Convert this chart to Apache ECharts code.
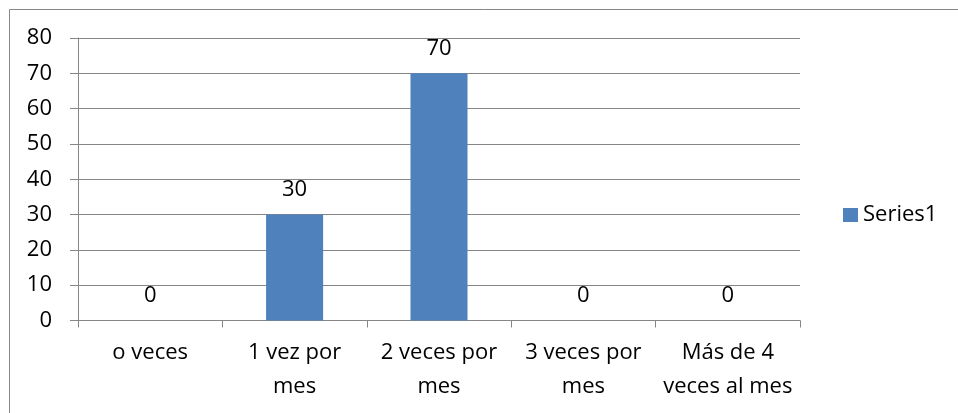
<!DOCTYPE html>
<html>
<head>
<meta charset="utf-8">
<script src="https://cdn.jsdelivr.net/npm/echarts@6/dist/echarts.min.js"></script>
<style>
html,body{margin:0;padding:0;background:#fff;}
#chart{width:958px;height:413px;}
</style>
</head>
<body>
<div id="chart"></div>
<script>
const categories = ["o veces", "1 vez por\nmes", "2 veces por\nmes", "3 veces por\nmes", "Más de 4\nveces al mes"];
const seriesName = "Series1";
const values = [0, 30, 70, 0, 0];
const yTicks = { min: 0, max: 80, interval: 10 };

const FONT = "Open Sans";
const FS = 22;
const chart = echarts.init(document.getElementById('chart'), null, { renderer: 'canvas' });
chart.setOption({
  animation: false,
  backgroundColor: '#ffffff',
  textStyle: { fontFamily: FONT },
  graphic: [{
    type: 'rect',
    shape: { x: 9.5, y: 9.5, width: 960, height: 420 },
    style: { fill: 'none', stroke: '#878787', lineWidth: 1 },
    silent: true
  }],
  grid: { left: 78, right: 158, top: 38, bottom: 92.5 },
  legend: {
    data: [seriesName],
    left: 838, top: 199,
    orient: 'vertical',
    icon: 'rect', itemWidth: 15, itemHeight: 14, itemGap: 6,
    textStyle: { fontFamily: FONT, fontSize: FS, color: '#000' }
  },
  xAxis: {
    type: 'category',
    data: categories,
    axisLine: { lineStyle: { color: '#868686', width: 1 } },
    axisTick: { show: true, length: 7, alignWithLabel: false, lineStyle: { color: '#868686' } },
    axisLabel: { interval: 0, color: '#000', fontFamily: FONT, fontSize: FS, lineHeight: 34, margin: 15 },
    splitLine: { show: false }
  },
  yAxis: {
    type: 'value',
    min: yTicks.min, max: yTicks.max, interval: yTicks.interval,
    axisLine: { show: true, lineStyle: { color: '#868686', width: 1 } },
    axisTick: { show: true, length: 8, lineStyle: { color: '#868686' } },
    axisLabel: { color: '#000', fontFamily: FONT, fontSize: FS, margin: 26 },
    splitLine: { show: true, lineStyle: { color: '#868686', width: 1 } }
  },
  series: [{
    name: seriesName,
    type: 'bar',
    data: values,
    barWidth: '39.5%',
    itemStyle: { color: '#4F81BD' },
    label: {
      show: true, position: 'top', distance: 14,
      color: '#000', fontFamily: FONT, fontSize: FS
    }
  }]
});
</script>
</body>
</html>
